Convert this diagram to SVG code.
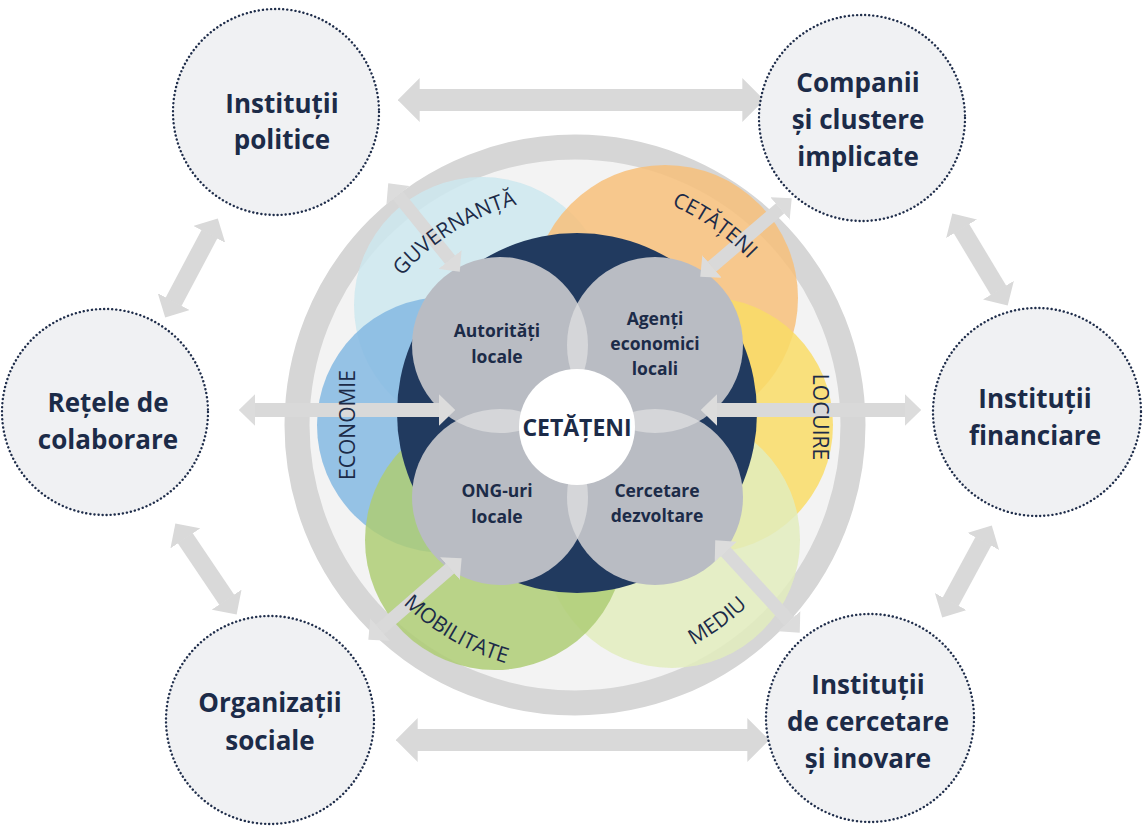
<svg xmlns="http://www.w3.org/2000/svg" width="1145" height="830" viewBox="0 0 1145 830">
<style>
.node circle{fill:#f0f1f3;stroke:#1f2d4a;stroke-width:2.4;stroke-dasharray:0.1 4;stroke-linecap:round}
.lbl{font-family:"Open Sans","Noto Sans",sans-serif;font-weight:700;font-size:26px;fill:#1c2b48;text-anchor:middle}
.in{font-family:"Open Sans","Noto Sans",sans-serif;font-weight:700;font-size:17.5px;fill:#1c2b48;text-anchor:middle}
.pet{font-family:"Open Sans","Noto Sans",sans-serif;font-weight:400;font-size:21px;fill:#1c2b48}
.ar{stroke:#d9d9d9;fill:none}
.petal{opacity:0.85}
</style>
<defs>
<marker id="ah" viewBox="0 0 10 20" refX="0.3" refY="10" markerWidth="1" markerHeight="2" orient="auto-start-reverse" markerUnits="strokeWidth"><path d="M0,0 L10,10 L0,20 z" fill="#d9d9d9"/></marker>
<marker id="ah2" viewBox="0 0 12 23" refX="0.3" refY="11.5" markerWidth="1.2" markerHeight="2.3" orient="auto-start-reverse" markerUnits="strokeWidth"><path d="M0,0 L12,11.5 L0,23 z" fill="#dcdcdc"/></marker>
<clipPath id="cA"><circle cx="500" cy="345" r="88"/></clipPath>
<clipPath id="cB"><circle cx="655" cy="345" r="88"/></clipPath>
<clipPath id="cC"><circle cx="500" cy="497" r="88"/></clipPath>
<path id="pGuv" d="M360.8,347 A228,228 0 0 1 598.8,198.3"/>
<path id="pCet" d="M575,185 A240,240 0 0 1 800.5,342.9"/>
<path id="pMob" d="M350.2,529.8 A248,248 0 0 0 596.6,672.1"/>
<path id="pMed" d="M601.1,673.6 A250,250 0 0 0 803.4,526.7"/>
</defs>
<rect width="1145" height="830" fill="#ffffff"/>

<g id="hub">
<circle cx="575" cy="425" r="278" fill="#f3f3f3" stroke="#d6d6d6" stroke-width="25"/>
<circle class="petal" cx="482" cy="305" r="128" fill="#cde7ee"/>
<circle class="petal" cx="665" cy="298" r="133" fill="#f7c07a"/>
<circle class="petal" cx="705" cy="425" r="128" fill="#f9dc66"/>
<circle class="petal" cx="672" cy="540" r="128" fill="#e2ecbd"/>
<circle class="petal" cx="445" cy="425" r="128" fill="#84b8e2"/>
<circle class="petal" cx="495" cy="540" r="130" fill="#aecd74"/>
<circle cx="577" cy="413" r="180" fill="#213a5f"/>
<g fill="#b9bcc3">
<circle cx="500" cy="345" r="88"/>
<circle cx="655" cy="345" r="88"/>
<circle cx="500" cy="497" r="88"/>
<circle cx="655" cy="497" r="88"/>
</g>
<g fill="#d5d6d9">
<circle cx="655" cy="345" r="88" clip-path="url(#cA)"/>
<circle cx="500" cy="497" r="88" clip-path="url(#cA)"/>
<circle cx="655" cy="497" r="88" clip-path="url(#cB)"/>
<circle cx="655" cy="497" r="88" clip-path="url(#cC)"/>
</g>
<circle cx="577" cy="427" r="58" fill="#ffffff"/>
</g>

<g id="connectors">
<line class="ar" x1="419" y1="100" x2="743" y2="100" stroke-width="22" marker-start="url(#ah)" marker-end="url(#ah)"/>
<line class="ar" x1="417" y1="740" x2="748" y2="740" stroke-width="22" marker-start="url(#ah)" marker-end="url(#ah)"/>
<line class="ar" x1="209.6" y1="233.9" x2="173.4" y2="302.1" stroke-width="18" marker-start="url(#ah)" marker-end="url(#ah)"/>
<line class="ar" x1="961.3" y1="228.4" x2="998.7" y2="290.6" stroke-width="18" marker-start="url(#ah)" marker-end="url(#ah)"/>
<line class="ar" x1="185.1" y1="537.9" x2="226.9" y2="600.1" stroke-width="18" marker-start="url(#ah)" marker-end="url(#ah)"/>
<line class="ar" x1="983.5" y1="540.9" x2="950.5" y2="602.1" stroke-width="18" marker-start="url(#ah)" marker-end="url(#ah)"/>
<line class="ar" x1="255" y1="410" x2="439" y2="410" stroke-width="14" stroke="#dcdcdc" marker-start="url(#ah2)" marker-end="url(#ah2)"/>
<line class="ar" x1="717" y1="410" x2="905" y2="410" stroke-width="14" stroke="#dcdcdc" marker-start="url(#ah2)" marker-end="url(#ah2)"/>
<line class="ar" x1="397.8" y1="195.1" x2="450.2" y2="259.9" stroke-width="13" stroke="#dcdcdc" marker-start="url(#ah2)" marker-end="url(#ah2)"/>
<line class="ar" x1="780.2" y1="208.2" x2="711.8" y2="266.8" stroke-width="13" stroke="#dcdcdc" marker-start="url(#ah2)" marker-end="url(#ah2)"/>
<line class="ar" x1="379.8" y1="629.7" x2="450.2" y2="568.3" stroke-width="13" stroke="#dcdcdc" marker-start="url(#ah2)" marker-end="url(#ah2)"/>
<line class="ar" x1="789.5" y1="621.5" x2="725.5" y2="551.5" stroke-width="13" stroke="#dcdcdc" marker-start="url(#ah2)" marker-end="url(#ah2)"/>
</g>

<g id="petal-labels">
<text class="pet"><textPath href="#pGuv" startOffset="50%" text-anchor="middle">GUVERNANȚĂ</textPath></text>
<text class="pet"><textPath href="#pCet" startOffset="50%" text-anchor="middle">CETĂȚENI</textPath></text>
<text class="pet"><textPath href="#pMob" startOffset="50%" text-anchor="middle">MOBILITATE</textPath></text>
<text class="pet"><textPath href="#pMed" startOffset="50%" text-anchor="middle">MEDIU</textPath></text>
<text class="pet" text-anchor="middle" transform="translate(355,425) rotate(-90)">ECONOMIE</text>
<text class="pet" text-anchor="middle" transform="translate(813,417) rotate(90)">LOCUIRE</text>
</g>

<g id="inner-labels">
<g id="autoritati"><text class="in" x="497" y="337">Autorități</text><text class="in" x="497" y="363">locale</text></g>
<g id="agenti"><text class="in" x="655" y="325">Agenți</text><text class="in" x="655" y="350">economici</text><text class="in" x="655" y="375">locali</text></g>
<g id="ong"><text class="in" x="497" y="497">ONG-uri</text><text class="in" x="497" y="523">locale</text></g>
<g id="cercetare"><text class="in" x="657" y="497">Cercetare</text><text class="in" x="657" y="522">dezvoltare</text></g>
<g id="cetateni"><text class="in" x="577" y="436" style="font-size:23px">CETĂȚENI</text></g>
</g>

<g id="n-politice" class="node"><circle cx="276" cy="112" r="103"/><text class="lbl" x="282" y="113">Instituții</text><text class="lbl" x="282" y="149">politice</text></g>
<g id="n-companii" class="node"><circle cx="862" cy="118" r="103"/><text class="lbl" x="858" y="92">Companii</text><text class="lbl" x="858" y="129">și clustere</text><text class="lbl" x="858" y="166">implicate</text></g>
<g id="n-retele" class="node"><circle cx="105" cy="412" r="103"/><text class="lbl" x="108" y="412">Rețele de</text><text class="lbl" x="108" y="449">colaborare</text></g>
<g id="n-financiare" class="node"><circle cx="1037" cy="412" r="104"/><text class="lbl" x="1035" y="408">Instituții</text><text class="lbl" x="1035" y="445">financiare</text></g>
<g id="n-sociale" class="node"><circle cx="270" cy="720" r="104"/><text class="lbl" x="270" y="712">Organizații</text><text class="lbl" x="270" y="750">sociale</text></g>
<g id="n-cercetare" class="node"><circle cx="870" cy="718" r="104"/><text class="lbl" x="868" y="694">Instituții</text><text class="lbl" x="868" y="731">de cercetare</text><text class="lbl" x="868" y="768">și inovare</text></g>
</svg>
